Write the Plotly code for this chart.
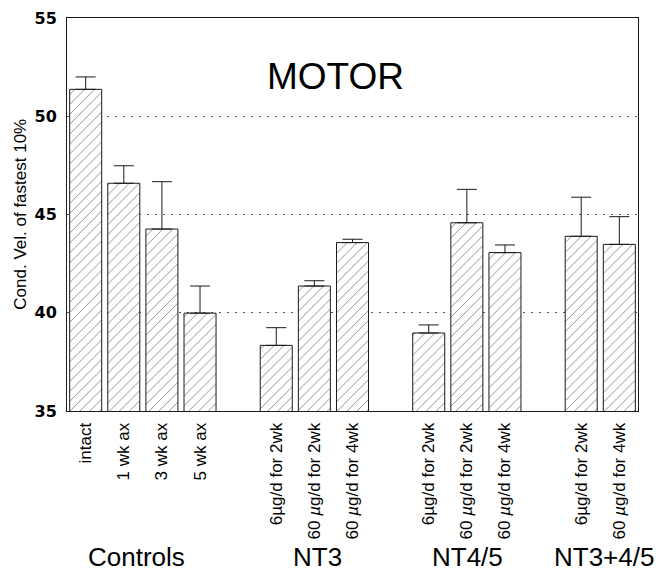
import plotly.graph_objects as go

# ---- data ----
categories = ["intact", "1 wk ax", "3 wk ax", "5 wk ax",
              "6µg/d for 2wk", "60 <i>µ</i>g/d for 2wk", "60 <i>µ</i>g/d for 4wk",
              "6µg/d for 2wk", "60 <i>µ</i>g/d for 2wk", "60 <i>µ</i>g/d for 4wk",
              "6µg/d for 2wk", "60 <i>µ</i>g/d for 4wk"]
positions = [0, 1, 2, 3, 5, 6, 7, 9, 10, 11, 13, 14]
values = [51.37, 46.59, 44.26, 39.98, 38.34, 41.36, 43.57, 38.97, 44.58, 43.06, 43.89, 43.48]
errors = [0.63, 0.89, 2.41, 1.38, 0.90, 0.27, 0.17, 0.41, 1.70, 0.39, 1.99, 1.41]
groups = ["Controls", "NT3", "NT4/5", "NT3+4/5"]
group_members = [[0, 1, 2, 3], [5, 6, 7], [9, 10, 11], [13, 14]]
y_ticks = [35, 40, 45, 50, 55]

FONT = "Liberation Sans, Arial, Helvetica, sans-serif"
group_xshift = [-6, 3, 1, 4]

fig = go.Figure()
fig.add_trace(go.Bar(
    x=positions,
    y=values,
    width=0.84,
    marker=dict(
        color="white",
        line=dict(color="#1a1a1a", width=1),
        pattern=dict(shape="/", fgcolor="#222222", bgcolor="white", size=7, solidity=0.14),
    ),
    error_y=dict(type="data", symmetric=False, array=errors, arrayminus=[0] * len(errors),
                 color="#1a1a1a", thickness=1, width=10),
    showlegend=False,
    hoverinfo="skip",
))

annotations = []
for name, members, xs in zip(groups, group_members, group_xshift):
    annotations.append(dict(
        x=sum(members) / len(members), y=-0.3715, xref="x", yref="paper", xshift=xs,
        text=name, showarrow=False, yanchor="middle",
        font=dict(family=FONT, size=26, color="black"),
    ))
annotations.append(dict(
    x=0.471, y=0.851, xref="paper", yref="paper", text="MOTOR", showarrow=False,
    yanchor="middle", font=dict(family=FONT, size=37, color="black"),
))
annotations.append(dict(
    x=-0.082, y=0.5, xref="paper", yref="paper", text="Cond. Vel. of fastest 10%",
    showarrow=False, textangle=-90, xanchor="center", yanchor="middle",
    font=dict(family=FONT, size=17, color="black"),
))

fig.update_layout(
    width=662, height=576,
    margin=dict(l=67, r=24, t=18, b=165, autoexpand=False),
    paper_bgcolor="white", plot_bgcolor="white",
    annotations=annotations,
    xaxis=dict(
        range=[-0.49, 14.49], tickmode="array", tickvals=positions, ticktext=categories,
        tickangle=-90, ticks="", showgrid=False, zeroline=False,
        showline=True, mirror=True, linecolor="#1a1a1a", linewidth=1,
        tickfont=dict(family=FONT, size=17, color="black"), ticklabelstandoff=4,
    ),
    yaxis=dict(
        range=[35, 55], tickmode="array", tickvals=y_ticks, ticks="",
        showgrid=True, gridcolor="#555555", gridwidth=1, griddash="2px,6px",
        zeroline=False, showline=True, mirror=True, linecolor="#1a1a1a", linewidth=1,
        tickfont=dict(family="DejaVu Sans, sans-serif", size=16, color="black", weight="bold"),
        ticklabelstandoff=6,
    ),
)

fig.write_html("out.html", config={"displayModeBar": False},
               post_script="document.body.style.margin='0';")
